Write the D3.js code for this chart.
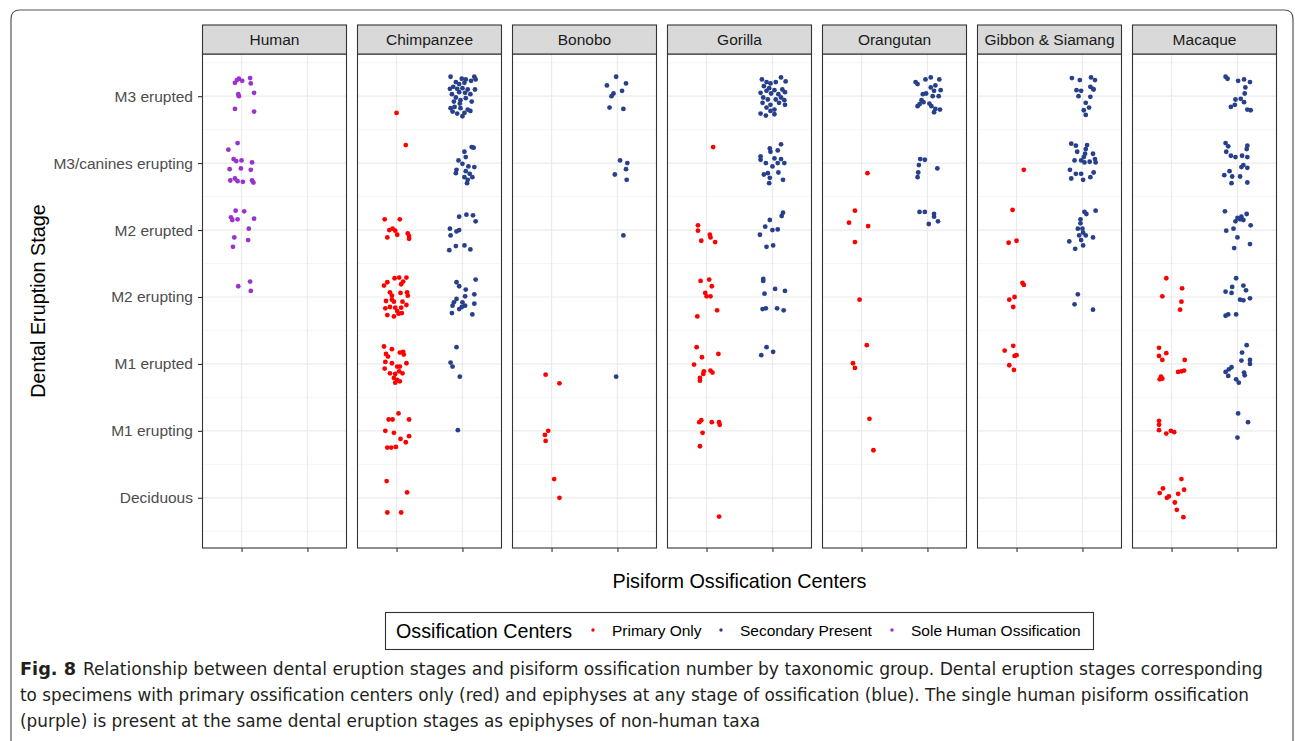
<!DOCTYPE html>
<html>
<head>
<meta charset="utf-8">
<script src="https://cdn.jsdelivr.net/npm/d3@7"></script>
<style>
  body { margin: 0; background: #fff; }
  svg { display: block; }
</style>
</head>
<body>
<div id="chart"></div>
<script>
// categories
const stages = ["Deciduous", "M1 erupting", "M1 erupted", "M2 erupting", "M2 erupted", "M3/canines erupting", "M3 erupted"];
const taxa = ["Human", "Chimpanzee", "Bonobo", "Gorilla", "Orangutan", "Gibbon & Siamang", "Macaque"];
const groups = ["Primary Only", "Secondary Present", "Sole Human Ossification"];
const groupColors = ["#FF0000", "#27408B", "#9A32CD"];

// points: [stage index, x jitter, y jitter]
const humanSole = [
  [6,-0.10,0.20],[6,-0.07,0.24],[6,-0.04,0.26],[6,0.01,0.23],[6,0.13,0.27],[6,0.14,0.19],[6,0.19,0.05],[6,-0.05,0.03],[6,-0.04,0.00],[6,-0.10,-0.19],[6,0.19,-0.23],
  [5,-0.06,0.30],[5,-0.20,0.20],[5,-0.12,0.06],[5,-0.08,0.03],[5,0.00,0.04],[5,0.16,0.01],[5,-0.18,-0.09],[5,-0.01,-0.08],[5,0.14,-0.10],[5,-0.17,-0.26],[5,-0.10,-0.23],[5,-0.06,-0.27],[5,0.02,-0.28],[5,0.16,-0.26],[5,0.18,-0.29],
  [4,-0.09,0.29],[4,0.04,0.28],[4,-0.16,0.19],[4,-0.14,0.15],[4,-0.06,0.16],[4,0.19,0.17],[4,0.11,0.02],[4,-0.11,-0.11],[4,0.10,-0.15],[4,-0.13,-0.25],
  [3,-0.05,0.16],[3,0.13,0.23],[3,0.14,0.09]
];
const chimpPrimary = [
  [6,0.00,-0.25],[5,0.14,0.27],
  [4,-0.18,0.16],[4,0.05,0.16],[4,-0.11,0.00],[4,-0.06,0.02],[4,-0.02,-0.01],[4,0.01,-0.07],[4,-0.14,-0.11],[4,0.17,-0.05],[4,0.19,-0.09],[4,0.19,-0.13],
  [3,-0.19,0.17],[3,-0.03,0.28],[3,0.04,0.29],[3,0.15,0.29],[3,-0.14,0.22],[3,0.07,0.19],[3,0.10,0.23],[3,-0.10,0.07],[3,-0.07,0.02],[3,0.06,0.06],[3,0.16,0.07],[3,0.17,0.02],[3,-0.16,-0.06],[3,-0.07,-0.04],[3,-0.04,-0.07],[3,0.09,-0.07],[3,-0.17,-0.17],[3,-0.10,-0.15],[3,-0.02,-0.16],[3,0.07,-0.16],[3,0.15,-0.12],[3,-0.14,-0.27],[3,-0.04,-0.29],[3,0.03,-0.25],[3,0.08,-0.24],[3,0.01,-0.21],
  [2,-0.19,0.26],[2,-0.07,0.22],[2,-0.16,0.15],[2,-0.13,0.11],[2,0.05,0.17],[2,0.10,0.18],[2,0.11,0.14],[2,-0.17,0.03],[2,-0.07,0.01],[2,0.15,0.01],[2,0.01,-0.04],[2,0.05,-0.04],[2,-0.18,-0.07],[2,-0.10,-0.14],[2,-0.02,-0.15],[2,0.04,-0.11],[2,0.09,-0.14],[2,-0.04,-0.21],[2,0.01,-0.24],[2,-0.02,-0.28],[2,0.05,-0.26],
  [1,0.03,0.26],[1,-0.12,0.17],[1,-0.06,0.17],[1,0.19,0.17],[1,-0.17,0.00],[1,-0.04,-0.03],[1,0.06,-0.12],[1,0.19,-0.08],[1,0.14,-0.17],[1,-0.01,-0.24],[1,-0.08,-0.25],[1,-0.14,-0.25],
  [0,-0.15,0.25],[0,0.16,0.08],[0,-0.14,-0.22],[0,0.07,-0.22]
];
const chimpSecondary = [
  [6,-0.18,0.29],[6,-0.01,0.26],[6,0.05,0.25],[6,0.18,0.29],[6,0.20,0.25],[6,-0.10,0.21],[6,-0.05,0.18],[6,0.03,0.20],[6,0.13,0.23],[6,-0.19,0.11],[6,-0.14,0.14],[6,-0.08,0.11],[6,0.00,0.12],[6,0.08,0.10],[6,0.19,0.10],[6,-0.16,0.03],[6,-0.05,0.06],[6,0.04,0.05],[6,0.12,0.03],[6,-0.10,-0.02],[6,-0.03,-0.06],[6,0.05,-0.03],[6,-0.13,-0.08],[6,-0.04,-0.11],[6,0.14,-0.08],[6,-0.18,-0.18],[6,-0.12,-0.16],[6,-0.03,-0.18],[6,0.08,-0.20],[6,-0.15,-0.23],[6,-0.08,-0.26],[6,0.03,-0.25],[6,0.00,-0.30],[6,0.12,-0.22],
  [5,0.14,0.24],[5,0.17,0.23],[5,0.03,0.17],[5,0.05,0.09],[5,-0.06,0.04],[5,0.00,-0.01],[5,0.09,-0.05],[5,0.18,-0.06],[5,-0.09,-0.10],[5,-0.10,-0.15],[5,0.05,-0.12],[5,0.11,-0.16],[5,0.15,-0.21],[5,0.03,-0.21],[5,0.08,-0.25],[5,0.07,-0.30],
  [4,-0.05,0.20],[4,0.06,0.23],[4,0.16,0.22],[4,0.20,0.13],[4,-0.19,0.02],[4,-0.09,-0.02],[4,-0.05,0.00],[4,-0.18,-0.08],[4,-0.10,-0.24],[4,0.03,-0.23],[4,0.12,-0.29],[4,-0.20,-0.30],
  [3,-0.09,0.22],[3,-0.05,0.16],[3,0.20,0.26],[3,0.05,0.11],[3,0.18,0.04],[3,-0.09,-0.03],[3,-0.13,-0.08],[3,0.00,-0.08],[3,0.04,-0.13],[3,0.18,-0.10],[3,-0.15,-0.13],[3,-0.05,-0.18],[3,-0.01,-0.15],[3,-0.16,-0.24],[3,0.15,-0.26],[3,0.04,0.01],
  [2,-0.09,0.25],[2,-0.18,0.02],[2,-0.15,-0.04],[2,-0.04,-0.19],
  [1,-0.07,0.01]
];
const bonoboPrimary = [
  [2,-0.09,-0.16],[2,0.12,-0.29],
  [1,-0.05,0.00],[1,-0.10,-0.06],[1,-0.09,-0.15],
  [0,0.04,0.28],[0,0.12,0.00]
];
const bonoboSecondary = [
  [6,-0.02,0.29],[6,0.13,0.19],[6,-0.16,0.16],[6,0.07,0.08],[6,-0.06,0.04],[6,-0.09,0.00],[6,-0.12,-0.17],[6,0.09,-0.19],
  [5,0.04,0.04],[5,0.15,0.00],[5,0.13,-0.09],[5,-0.04,-0.17],[5,0.14,-0.25],
  [4,0.09,-0.08],
  [2,-0.02,-0.19]
];
const gorillaPrimary = [
  [5,0.10,0.24],
  [4,-0.13,0.07],[4,-0.13,-0.01],[4,0.05,-0.07],[4,0.06,-0.11],[4,-0.08,-0.16],[4,0.13,-0.18],
  [3,-0.09,0.24],[3,0.04,0.26],[3,0.08,0.16],[3,-0.02,0.06],[3,0.00,0.01],[3,0.06,0.01],[3,0.16,-0.20],[3,-0.14,-0.29],
  [2,-0.15,0.25],[2,0.18,0.15],[2,-0.07,0.10],[2,-0.19,-0.01],[2,-0.04,-0.11],[2,-0.05,-0.15],[2,0.06,-0.10],[2,0.09,-0.13],[2,-0.10,-0.21],[2,-0.10,-0.25],
  [1,-0.08,0.16],[1,-0.11,0.13],[1,0.08,0.13],[1,0.19,0.13],[1,0.20,0.09],[1,-0.06,-0.03],[1,-0.10,-0.23],
  [0,0.19,-0.28]
];
const gorillaSecondary = [
  [6,-0.16,0.25],[6,0.13,0.28],[6,0.20,0.22],[6,0.05,0.21],[6,-0.09,0.21],[6,-0.03,0.19],[6,-0.13,0.15],[6,-0.05,0.12],[6,-0.18,0.05],[6,-0.09,0.08],[6,0.03,0.09],[6,0.15,0.10],[6,0.19,0.06],[6,-0.02,0.04],[6,0.09,0.03],[6,-0.14,-0.02],[6,-0.07,-0.05],[6,0.05,-0.05],[6,0.13,-0.02],[6,0.18,-0.06],[6,-0.15,-0.10],[6,-0.03,-0.13],[6,0.19,-0.13],[6,-0.09,-0.17],[6,0.03,-0.20],[6,-0.18,-0.26],[6,-0.10,-0.29],[6,0.03,-0.27],[6,-0.03,-0.22],[6,0.10,-0.10],
  [5,0.13,0.28],[5,-0.04,0.22],[5,-0.03,0.17],[5,0.08,0.19],[5,-0.18,0.10],[5,-0.18,0.05],[5,0.03,0.07],[5,-0.10,0.00],[5,0.13,0.06],[5,0.18,0.00],[5,0.00,-0.05],[5,-0.13,-0.17],[5,-0.07,-0.15],[5,0.09,-0.14],[5,-0.04,-0.22],[5,0.16,-0.25],[5,-0.05,-0.30],[5,0.08,0.00],
  [4,0.16,0.26],[4,0.14,0.21],[4,-0.04,0.15],[4,-0.11,0.05],[4,0.00,0.00],[4,0.08,0.01],[4,-0.19,-0.07],[4,-0.09,-0.25],[4,0.01,-0.23],
  [3,-0.14,0.27],[3,-0.14,0.24],[3,0.04,0.12],[3,0.19,0.09],[3,-0.12,0.05],[3,-0.15,-0.18],[3,-0.10,-0.17],[3,0.07,-0.17],[3,0.17,-0.20],
  [2,-0.09,0.25],[2,0.01,0.18],[2,-0.17,0.13]
];
const orangPrimary = [
  [5,0.09,-0.15],
  [4,-0.10,0.29],[4,-0.19,0.11],[4,0.10,0.06],[4,-0.10,-0.18],
  [3,-0.03,-0.04],
  [2,0.08,0.28],[2,-0.13,0.01],[2,-0.10,-0.06],
  [1,0.12,0.18],[1,0.18,-0.29]
];
const orangSecondary = [
  [6,-0.18,0.21],[6,-0.15,0.18],[6,-0.03,0.25],[6,0.05,0.28],[6,0.18,0.25],[6,0.12,0.16],[6,0.05,0.13],[6,0.20,0.09],[6,0.10,0.08],[6,-0.07,0.03],[6,-0.02,0.04],[6,0.08,0.00],[6,0.17,0.00],[6,-0.09,-0.06],[6,-0.06,-0.09],[6,0.03,-0.11],[6,-0.15,-0.15],[6,-0.12,-0.12],[6,0.06,-0.15],[6,0.12,-0.19],[6,0.19,-0.20],[6,0.10,-0.24],
  [5,-0.11,0.06],[5,-0.04,0.05],[5,-0.13,-0.03],[5,-0.14,-0.14],[5,-0.15,-0.21],[5,0.15,-0.08],
  [4,-0.12,0.27],[4,-0.04,0.27],[4,0.10,0.24],[4,0.10,0.20],[4,0.02,0.09],[4,0.16,0.13]
];
const gibbonPrimary = [
  [5,0.11,-0.10],
  [4,-0.06,0.30],[4,0.00,-0.16],[4,-0.12,-0.19],
  [3,0.09,0.21],[3,0.11,0.18],[3,-0.03,0.00],[3,-0.11,-0.04],[3,-0.05,-0.15],
  [2,-0.05,0.27],[2,-0.18,0.20],[2,-0.03,0.12],[2,0.00,0.13],[2,-0.11,-0.02],[2,-0.04,-0.09]
];
const gibbonSecondary = [
  [6,-0.16,0.27],[6,-0.04,0.24],[6,0.13,0.28],[6,0.19,0.24],[6,0.12,0.14],[6,0.16,0.11],[6,0.17,0.10],[6,-0.09,0.09],[6,-0.02,0.08],[6,-0.06,0.00],[6,0.12,-0.01],[6,0.05,-0.10],[6,0.10,-0.17],[6,0.02,-0.21],[6,0.05,-0.28],
  [5,-0.17,0.29],[5,-0.10,0.26],[5,0.07,0.27],[5,-0.08,0.17],[5,0.05,0.21],[5,0.04,0.14],[5,0.16,0.14],[5,-0.12,0.04],[5,-0.02,0.04],[5,0.02,0.09],[5,0.03,0.01],[5,0.11,0.02],[5,0.19,0.06],[5,0.20,0.01],[5,-0.19,-0.10],[5,-0.10,-0.16],[5,-0.02,-0.16],[5,0.17,-0.14],[5,-0.17,-0.23],[5,0.01,-0.25],[5,0.12,-0.21],
  [4,0.03,0.27],[4,0.06,0.24],[4,0.20,0.29],[4,-0.03,0.16],[4,-0.03,0.10],[4,-0.07,0.02],[4,0.00,0.02],[4,0.01,-0.04],[4,0.05,-0.08],[4,-0.05,-0.08],[4,-0.02,-0.15],[4,0.16,-0.11],[4,-0.20,-0.17],[4,0.01,-0.23],[4,-0.11,-0.28],
  [3,-0.07,0.04],[3,-0.12,-0.11],[3,0.16,-0.19]
];
const macaquePrimary = [
  [3,-0.08,0.28],[3,0.16,0.13],[3,-0.14,0.01],[3,0.15,-0.07],[3,0.13,-0.19],
  [2,-0.19,0.24],[2,-0.08,0.16],[2,-0.19,0.12],[2,-0.14,0.06],[2,0.20,0.06],[2,0.10,-0.12],[2,0.15,-0.11],[2,0.19,-0.10],[2,-0.16,-0.19],[2,-0.18,-0.23],[2,-0.14,-0.22],
  [1,-0.19,0.15],[1,-0.19,0.09],[1,-0.19,0.01],[1,-0.01,0.00],[1,0.04,-0.02],[1,-0.08,-0.04],
  [0,0.15,0.28],[0,-0.13,0.14],[0,0.19,0.12],[0,-0.18,0.07],[0,-0.04,0.02],[0,-0.07,0.00],[0,0.10,0.06],[0,0.05,-0.07],[0,0.08,-0.18],[0,0.18,-0.29]
];
const macaqueSecondary = [
  [6,-0.18,0.29],[6,-0.15,0.26],[6,0.01,0.23],[6,0.10,0.25],[6,0.19,0.21],[6,0.12,0.13],[6,0.11,0.04],[6,-0.03,-0.05],[6,0.05,-0.04],[6,0.10,-0.09],[6,-0.04,-0.13],[6,-0.10,-0.16],[6,0.15,-0.20],[6,0.20,-0.21],
  [5,-0.18,0.30],[5,-0.14,0.25],[5,0.15,0.26],[5,0.14,0.21],[5,-0.17,0.17],[5,-0.10,0.11],[5,-0.03,0.09],[5,0.07,0.11],[5,0.15,0.09],[5,0.09,-0.03],[5,0.06,-0.06],[5,0.15,-0.07],[5,-0.12,-0.12],[5,-0.20,-0.18],[5,-0.08,-0.20],[5,0.04,-0.20],[5,-0.09,-0.30],[5,0.15,-0.29],
  [4,-0.19,0.28],[4,0.00,0.18],[4,0.06,0.20],[4,0.14,0.24],[4,0.09,0.15],[4,0.04,0.16],[4,-0.03,0.13],[4,0.20,0.07],[4,-0.17,-0.01],[4,-0.06,0.02],[4,0.00,-0.11],[4,-0.05,-0.27],[4,0.19,-0.21],
  [3,-0.02,0.28],[3,-0.08,0.15],[3,0.09,0.17],[3,0.13,0.10],[3,-0.18,0.08],[3,-0.09,0.06],[3,0.04,-0.04],[3,0.09,-0.05],[3,0.19,-0.02],[3,-0.14,-0.26],[3,-0.18,-0.28],[3,-0.02,-0.26],
  [2,0.14,0.28],[2,0.07,0.17],[2,0.06,0.05],[2,0.19,0.06],[2,0.19,0.00],[2,-0.09,-0.05],[2,-0.13,-0.08],[2,-0.18,-0.12],[2,-0.14,-0.18],[2,0.10,-0.13],[2,0.11,-0.17],[2,-0.02,-0.23],[2,0.02,-0.28],
  [1,0.01,0.26],[1,0.16,0.13],[1,0.00,-0.10]
];

const caption = [
  "Relationship between dental eruption stages and pisiform ossification number by taxonomic group. Dental eruption stages corresponding",
  "to specimens with primary ossification centers only (red) and epiphyses at any stage of ossification (blue). The single human pisiform ossification",
  "(purple) is present at the same dental eruption stages as epiphyses of non-human taxa"
];

// build long table: x = 1 (primary / sole human) or 2 (secondary)
const series = [
  ["Human", 2, humanSole],
  ["Chimpanzee", 0, chimpPrimary], ["Chimpanzee", 1, chimpSecondary],
  ["Bonobo", 0, bonoboPrimary], ["Bonobo", 1, bonoboSecondary],
  ["Gorilla", 0, gorillaPrimary], ["Gorilla", 1, gorillaSecondary],
  ["Orangutan", 0, orangPrimary], ["Orangutan", 1, orangSecondary],
  ["Gibbon & Siamang", 0, gibbonPrimary], ["Gibbon & Siamang", 1, gibbonSecondary],
  ["Macaque", 0, macaquePrimary], ["Macaque", 1, macaqueSecondary]
];
const data = [];
series.forEach(([taxon, g, pts]) => {
  pts.forEach(p => data.push({
    taxon,
    group: groups[g],
    x: (g === 1 ? 2 : 1) + p[1],
    y: p[0] + 1 + p[2]
  }));
});

const W = 1295, H = 741;
const panelW = 145, panelStep = 155, panelLeft = 202;
const plotTop = 54, plotBottom = 548, stripTop = 25;
const font = "'Liberation Sans', Arial, sans-serif";

const svg = d3.select("#chart").append("svg")
  .attr("width", W).attr("height", H)
  .style("background", "#fff");

// figure frame
svg.append("path")
  .attr("d", "M11,745 L11,19 Q11,10 20,10 L1284,10 Q1293,10 1293,19 L1293,745")
  .attr("fill", "none").attr("stroke", "#555").attr("stroke-width", 1.2);

const x = d3.scaleLinear().domain([0.4, 2.6]).range([0, panelW]);
const y = d3.scaleLinear().domain([0.25, 7.63]).range([plotBottom, plotTop]);
const color = d3.scaleOrdinal().domain(groups).range(groupColors);

const minor = d3.range(0.5, 8, 1);
const major = d3.range(1, 8);

taxa.forEach((taxon, i) => {
  const g = svg.append("g").attr("transform", `translate(${panelLeft + i * panelStep},0)`);

  g.selectAll(".minor").data(minor).enter().append("line")
    .attr("x1", 0).attr("x2", panelW)
    .attr("y1", d => y(d)).attr("y2", d => y(d))
    .attr("stroke", "#F0F0F0").attr("stroke-width", 0.7);

  g.selectAll(".hmajor").data(major).enter().append("line")
    .attr("x1", 0).attr("x2", panelW)
    .attr("y1", d => y(d)).attr("y2", d => y(d))
    .attr("stroke", "#EBEBEB").attr("stroke-width", 1.2);

  g.selectAll(".vmajor").data([1, 2]).enter().append("line")
    .attr("x1", d => x(d)).attr("x2", d => x(d))
    .attr("y1", plotTop).attr("y2", plotBottom)
    .attr("stroke", "#EBEBEB").attr("stroke-width", 1.2);

  g.selectAll("circle").data(data.filter(d => d.taxon === taxon)).enter().append("circle")
    .attr("cx", d => x(d.x))
    .attr("cy", d => y(d.y))
    .attr("r", 2.4)
    .attr("fill", d => color(d.group));

  g.append("rect")
    .attr("x", 0.5).attr("y", plotTop).attr("width", panelW - 1).attr("height", plotBottom - plotTop)
    .attr("fill", "none").attr("stroke", "#333").attr("stroke-width", 1.1);

  g.append("rect")
    .attr("x", 0.5).attr("y", stripTop).attr("width", panelW - 1).attr("height", plotTop - stripTop)
    .attr("fill", "#D9D9D9").attr("stroke", "#333").attr("stroke-width", 1.1);

  g.append("text")
    .attr("x", panelW / 2).attr("y", (stripTop + plotTop) / 2 + 5.5)
    .attr("text-anchor", "middle")
    .style("font-family", font).style("font-size", "15.5px").attr("fill", "#1A1A1A")
    .text(taxon);

  const xAxis = g.append("g").attr("transform", `translate(0,${plotBottom})`)
    .call(d3.axisBottom(x).tickValues([1, 2]).tickFormat("").tickSize(4).tickSizeOuter(0));
  xAxis.select(".domain").remove();
  xAxis.selectAll("line").attr("stroke", "#333").attr("stroke-width", 1.1);
});

// y axis on the first panel
const yAxis = svg.append("g").attr("transform", `translate(${panelLeft},0)`)
  .call(d3.axisLeft(y).tickValues(major).tickFormat(d => stages[d - 1]).tickSize(4).tickPadding(5));
yAxis.select(".domain").remove();
yAxis.selectAll("line").attr("stroke", "#333").attr("stroke-width", 1.1);
yAxis.selectAll("text")
  .style("font-family", font).style("font-size", "15.5px").attr("fill", "#4D4D4D");

// axis titles
svg.append("text")
  .attr("x", (panelLeft + panelLeft + 6 * panelStep + panelW) / 2).attr("y", 588)
  .attr("text-anchor", "middle")
  .style("font-family", font).style("font-size", "19.8px").attr("fill", "#000")
  .text("Pisiform Ossification Centers");

svg.append("text")
  .attr("transform", `translate(45,${(plotTop + plotBottom) / 2}) rotate(-90)`)
  .attr("text-anchor", "middle")
  .style("font-family", font).style("font-size", "19.8px").attr("fill", "#000")
  .text("Dental Eruption Stage");

// legend
const legend = svg.append("g");
legend.append("rect")
  .attr("x", 385.5).attr("y", 612.5).attr("width", 708).attr("height", 37)
  .attr("fill", "#fff").attr("stroke", "#333").attr("stroke-width", 1.1);
legend.append("text")
  .attr("x", 396).attr("y", 637.5)
  .style("font-family", font).style("font-size", "19.7px").attr("fill", "#000")
  .text("Ossification Centers");
const keyX = [593, 721, 892];
groups.forEach((grp, i) => {
  legend.append("circle")
    .attr("cx", keyX[i]).attr("cy", 630).attr("r", 1.7).attr("fill", color(grp));
  legend.append("text")
    .attr("x", keyX[i] + 19).attr("y", 635.5)
    .style("font-family", font).style("font-size", "15.5px").attr("fill", "#000")
    .text(grp);
});

// caption
const capFont = "'Liberation Sans Narrow', 'DejaVu Sans Condensed', 'Liberation Sans', sans-serif";
svg.append("text")
  .attr("x", 20).attr("y", 675)
  .style("font-family", capFont).style("font-size", "18px").style("font-weight", "bold").attr("fill", "#231F20")
  .attr("textLength", 56).attr("lengthAdjust", "spacingAndGlyphs")
  .text("Fig. 8");
const capX = [83, 20, 20], capEnd = [1263, 1249, 760], capY = [675, 701, 727];
caption.forEach((line, i) => {
  svg.append("text")
    .attr("x", capX[i]).attr("y", capY[i])
    .style("font-family", capFont).style("font-size", "18px").attr("fill", "#231F20")
    .attr("textLength", capEnd[i] - capX[i]).attr("lengthAdjust", "spacingAndGlyphs")
    .text(line);
});
</script>
</body>
</html>
